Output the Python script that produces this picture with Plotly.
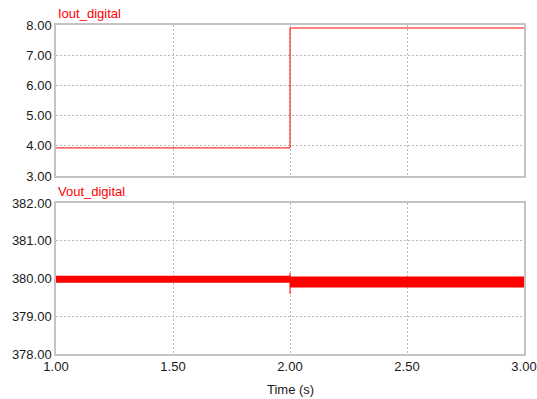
import plotly.graph_objects as go

# Data
t_iout = [1.0, 2.0, 2.0, 3.0]
iout = [3.93, 3.93, 7.90, 7.90]

t_vout = [1.0, 2.0, 2.0, 3.0]
vout_upper = [380.07, 380.07, 380.05, 380.05]
vout_lower = [379.89, 379.89, 379.76, 379.76]
t_spike = [2.0, 2.0]
v_spike = [379.59, 380.15]

x_ticks = [1.0, 1.5, 2.0, 2.5, 3.0]
iout_ticks = [3, 4, 5, 6, 7, 8]
vout_ticks = [378, 379, 380, 381, 382]

RED = "#ff0000"
FONT = "Liberation Sans, Arial, sans-serif"

fig = go.Figure()
fig.add_trace(go.Scatter(x=t_iout, y=iout, mode="lines",
                         line=dict(color=RED, width=1), xaxis="x", yaxis="y",
                         showlegend=False))
fig.add_trace(go.Scatter(x=t_vout, y=vout_lower, mode="lines",
                         line=dict(color=RED, width=0), xaxis="x2", yaxis="y2",
                         showlegend=False))
fig.add_trace(go.Scatter(x=t_vout, y=vout_upper, mode="lines", fill="tonexty",
                         fillcolor=RED, line=dict(color=RED, width=0),
                         xaxis="x2", yaxis="y2", showlegend=False))
fig.add_trace(go.Scatter(x=t_spike, y=v_spike, mode="lines",
                         line=dict(color=RED, width=1), xaxis="x2", yaxis="y2",
                         showlegend=False))

axis_common = dict(
    range=[1, 3], tickvals=x_ticks, tickformat=".2f", automargin=False,
    showgrid=True, gridcolor="#b8b8b8", griddash="2px,2px", gridwidth=1,
    showline=True, linecolor="#c4c4c4", linewidth=1.5, mirror=True,
    zeroline=False, ticks="", tickfont=dict(family=FONT, size=13, color="#1a1a1a"),
)

fig.update_layout(
    width=537, height=399,
    margin=dict(l=56, r=13, t=25, b=45, autoexpand=False),
    paper_bgcolor="white", plot_bgcolor="white",
    font=dict(family=FONT),
    xaxis=dict(axis_common, domain=[0, 1], anchor="y", showticklabels=False),
    yaxis=dict(axis_common, domain=[0.541, 1], anchor="x", range=[3, 8],
               tickvals=iout_ticks, tickformat=".2f"),
    xaxis2=dict(axis_common, domain=[0, 1], anchor="y2"),
    yaxis2=dict(axis_common, domain=[0, 0.459], anchor="x2", range=[378, 382],
                tickvals=vout_ticks, tickformat=".2f"),
    annotations=[
        dict(text="Iout_digital", x=0, xref="paper", xanchor="left",
             y=1, yref="paper", yanchor="bottom", yshift=2, showarrow=False,
             font=dict(family=FONT, size=13, color=RED)),
        dict(text="Vout_digital", x=0, xref="paper", xanchor="left",
             y=0.459, yref="paper", yanchor="bottom", yshift=2, showarrow=False,
             font=dict(family=FONT, size=13, color=RED)),
        dict(text="Time (s)", x=0.5, xref="paper", xanchor="center",
             y=0, yref="paper", yanchor="middle", yshift=-35, showarrow=False,
             font=dict(family=FONT, size=13, color="#1a1a1a")),
    ],
)

fig.write_html("out.html")
